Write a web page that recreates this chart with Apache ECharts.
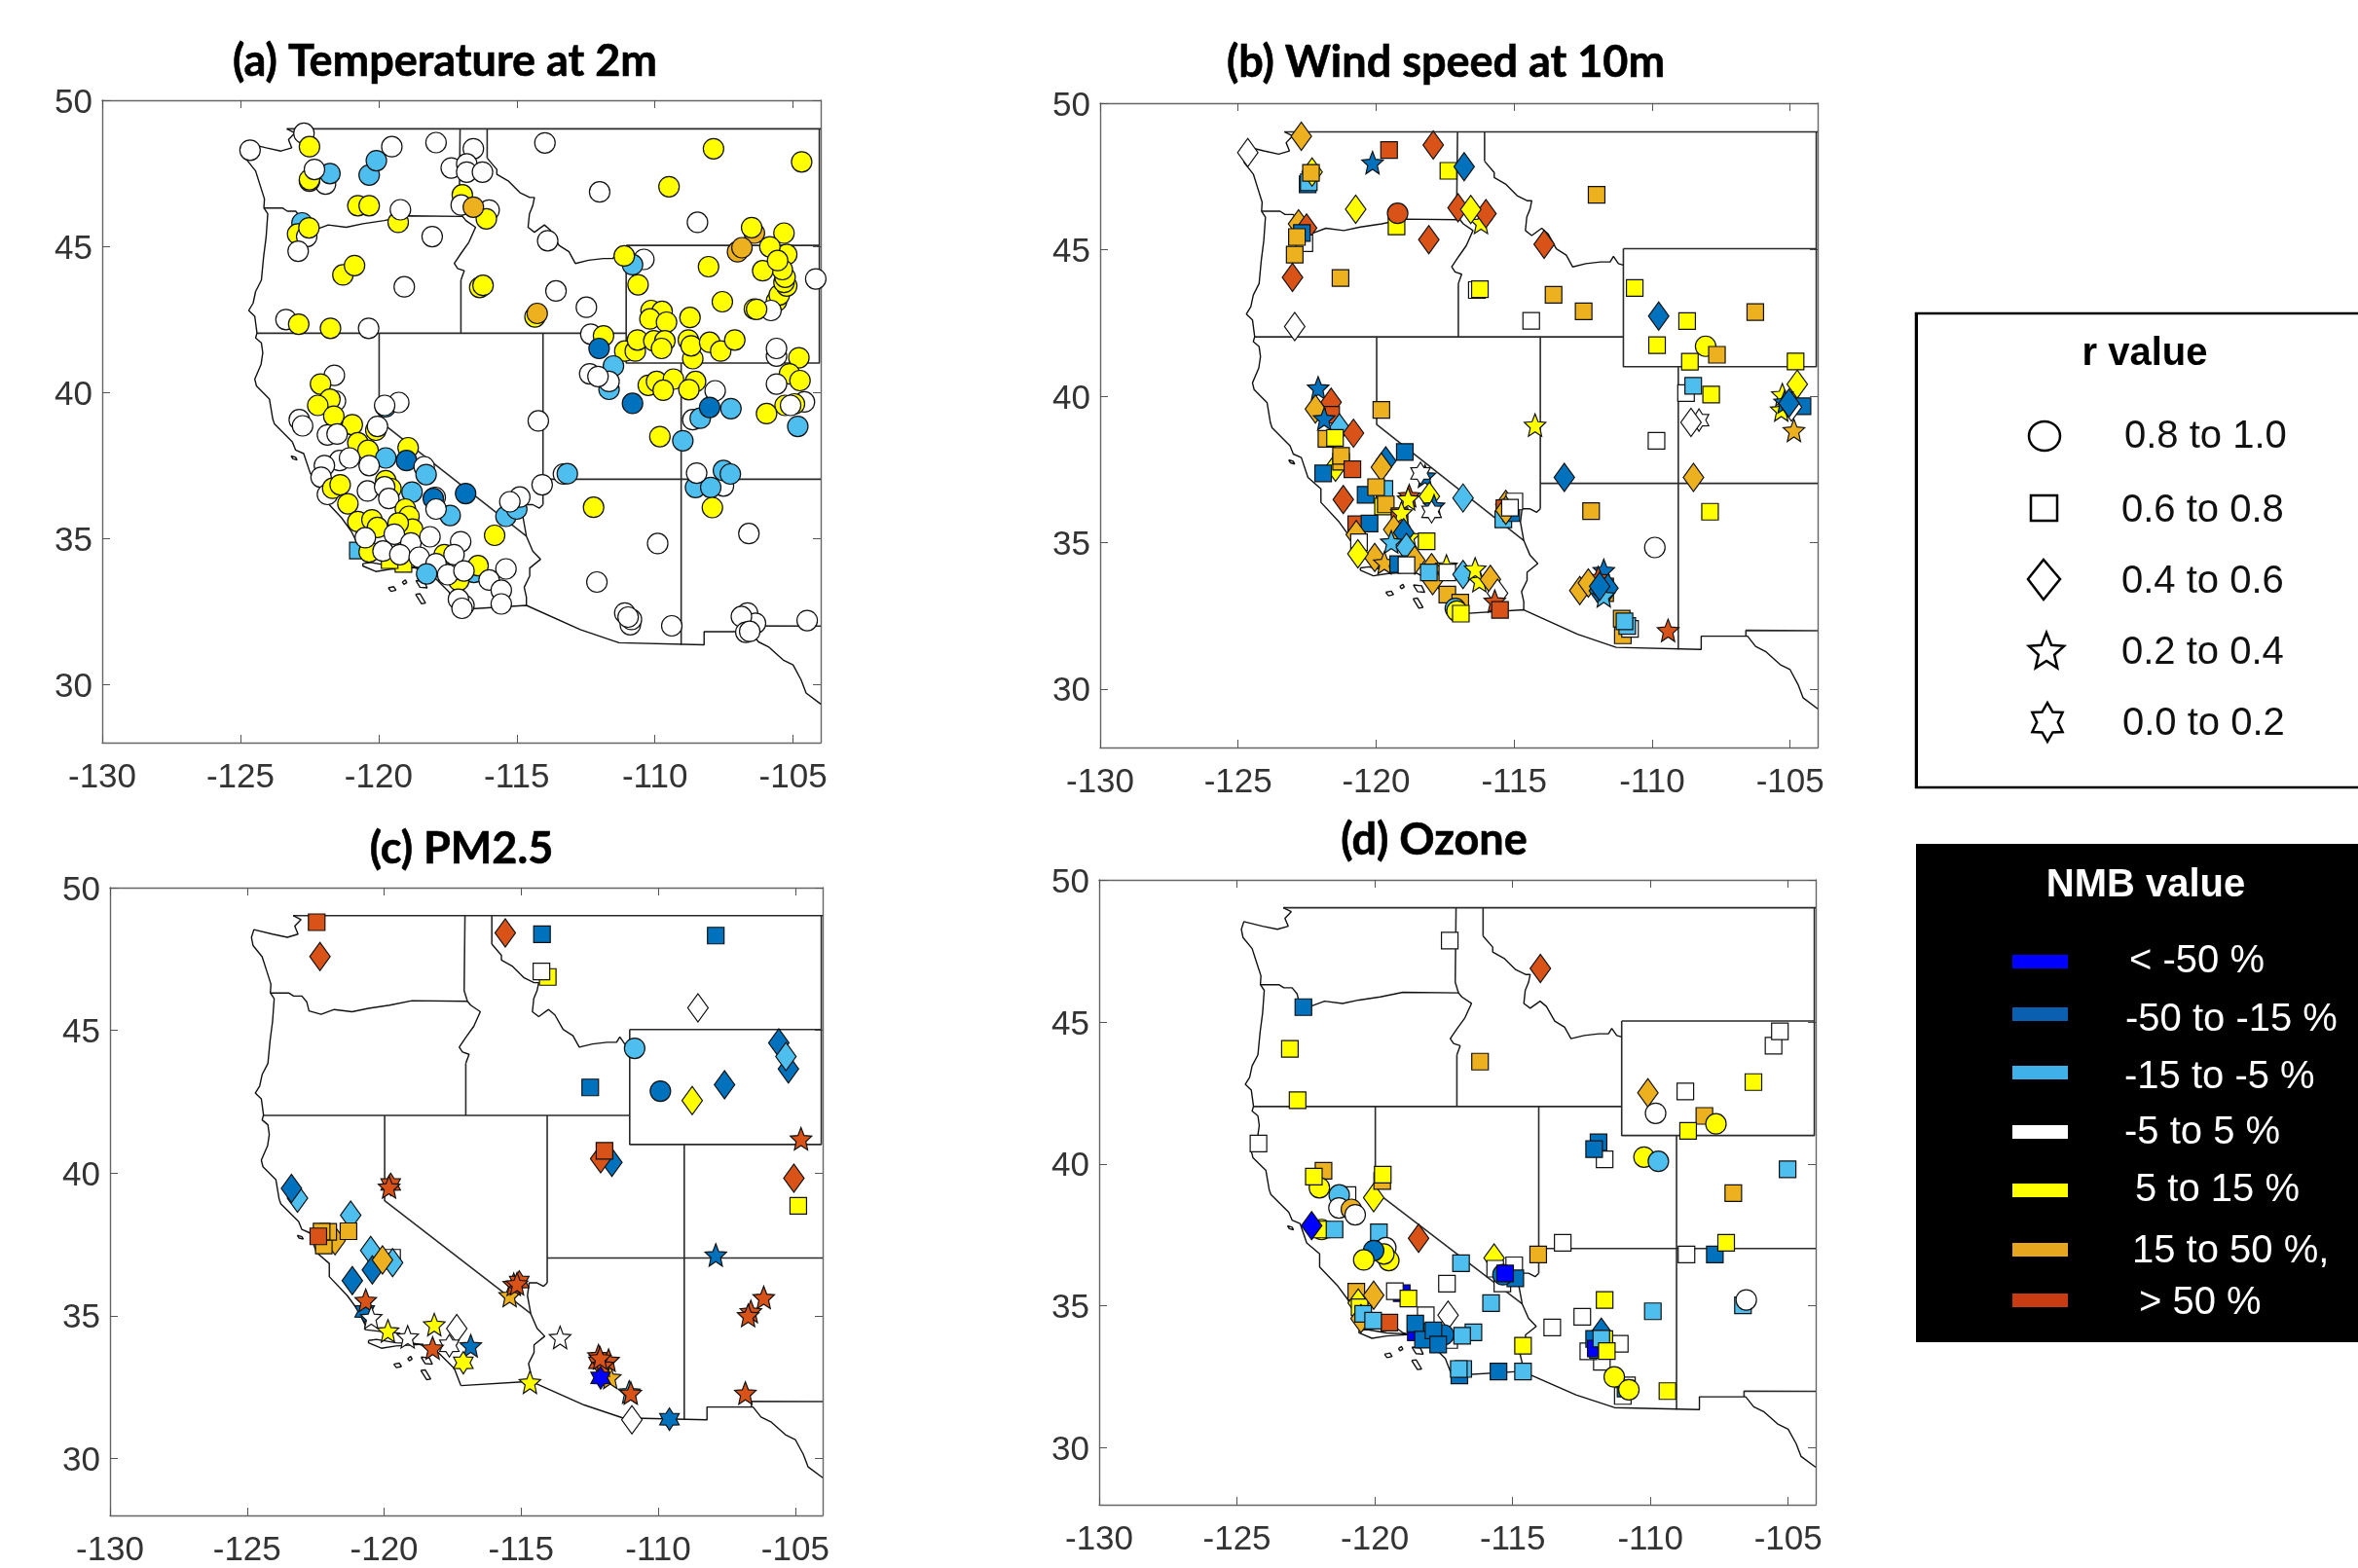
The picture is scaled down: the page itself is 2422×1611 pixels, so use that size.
<!DOCTYPE html>
<html><head><meta charset="utf-8">
<style>html,body{margin:0;padding:0;background:#fff}#c{width:2422px;height:1611px}</style>
<script src="https://cdn.jsdelivr.net/npm/echarts@6/dist/echarts.min.js"></script>
</head><body><div id="c"></div>
<script>
// Tick labels
const lonTicks=[-130,-125,-120,-115,-110,-105];
const latTicks=[30,35,40,45,50];
// Classes
const rLabels=['0.8 to 1.0','0.6 to 0.8','0.4 to 0.6','0.2 to 0.4','0.0 to 0.2'];
const nmbLabels=['< -50 %','-50 to -15 %','-15 to -5 %','-5 to 5 %','5 to 15 %','15 to 50 %,','> 50 %'];
const nmbColors=['#0000ff','#0072bd','#4dbeee','#ffffff','#ffff00','#edb120','#d95319'];
const nmbLegendColors=['#0000ff','#0b5fb0','#3fb0e8','#ffffff','#ffff00','#e6a61e','#c83c14'];
const titles=['(a) Temperature at 2m','(b) Wind speed at 10m','(c) PM2.5','(d) Ozone'];

// Base map polylines [lon,lat]: wiggly coast and rivers
const coastLine=[[-123.32,49.02],[-123.03,48.88],[-123.26,48.65],[-123.14,48.37],[-123.53,48.26],[-124.07,48.37],[-124.75,48.53],[-124.84,48.26],[-124.78,47.97],[-124.45,47.58],[-124.3,47.13],[-124.13,46.62],[-124.15,46.31],[-124.01,46.11],[-124.07,45.31],[-124.16,44.64],[-124.24,43.84],[-124.45,43.45],[-124.54,43.05],[-124.7,42.8],[-124.48,42.6],[-124.4,42.03],[-124.45,41.86],[-124.24,41.69],[-124.19,41.35],[-124.25,40.96],[-124.48,40.45],[-124.42,40.22],[-123.95,39.77],[-123.83,39.09],[-123.77,38.92],[-123.12,38.3],[-123,38.02],[-122.71,37.9],[-122.47,37.22],[-122,36.83],[-122,36.37],[-121.34,35.7],[-120.99,35.24],[-120.69,34.68],[-120.69,34.51],[-120.16,34.45],[-119.45,34.39],[-118.97,34.05],[-118.5,33.94],[-118.03,33.71],[-117.44,33.15],[-117.2,32.55]];
const mexicoBorder=[[-117.2,32.55],[-114.65,32.7],[-112.7,31.87],[-111.3,31.42],[-108.22,31.35],[-108.22,31.8],[-106.54,31.8],[-106.25,31.45],[-105.89,31.28],[-105.36,30.83],[-105,30.66],[-104.71,30.15],[-104.53,29.7],[-104,29.32]];
const columbiaRiver=[[-124.15,46.31],[-123.48,46.31],[-123.3,46.2],[-123,46.2],[-122.82,45.99],[-122.74,45.68],[-122.3,45.56],[-121.82,45.73],[-121.17,45.65],[-120.57,45.77],[-119.8,45.88],[-118.98,46.04],[-116.96,46.02]];
const snakeRiver=[[-116.96,46.02],[-116.84,45.88],[-116.49,45.65],[-116.73,45.14],[-117.02,44.75],[-117.26,44.41],[-117.14,44.24],[-116.9,44.16],[-117.02,43.84]];
const idahoMontana=[[-116.07,48.02],[-115.72,47.63],[-115.72,47.46],[-115.31,47.24],[-114.89,46.84],[-114.53,46.67],[-114.36,46.67],[-114.42,46.39],[-114.54,46.11],[-114.59,45.65],[-114.36,45.48],[-114,45.73],[-113.77,45.54],[-113.47,45.03],[-113.11,44.81],[-112.88,44.41],[-112.4,44.52],[-111.87,44.58],[-111.52,44.58],[-111.4,44.77],[-111.22,44.52],[-111.04,44.47]];
const coloradoRiver=[[-114.05,36.15],[-114.18,36.03],[-114.42,36.15],[-114.71,36.15],[-114.77,35.7],[-114.65,35.07],[-114.42,34.56],[-114.14,34.28],[-114.53,33.98],[-114.53,33.71],[-114.73,33.32],[-114.65,32.98],[-114.65,32.7]];
const islandFarallon=[[-123.17,37.82],[-123,37.77],[-122.95,37.68],[-123.1,37.72],[-123.17,37.82]];
const islandNicolas=[[-119.65,33.3],[-119.45,33.34],[-119.37,33.22],[-119.55,33.18],[-119.65,33.3]];
const islandBarbara=[[-119.14,33.5],[-119.03,33.57],[-118.98,33.48],[-119.08,33.42],[-119.14,33.5]];
const islandCatalina=[[-118.65,33.55],[-118.35,33.52],[-118.24,33.3],[-118.5,33.32],[-118.65,33.55]];
const islandClemente=[[-118.66,33.08],[-118.5,33.1],[-118.3,32.78],[-118.45,32.76],[-118.66,33.08]];
const islandsNorth=[[-120.57,34.13],[-120.28,34.17],[-119.57,34.05],[-118.56,34],[-119.57,33.94],[-120.1,33.86],[-120.57,34.05],[-120.57,34.13]];
const wigglyLines=[coastLine,mexicoBorder,columbiaRiver,snakeRiver,idahoMontana,coloradoRiver,islandFarallon,islandNicolas,islandBarbara,islandCatalina,islandClemente,islandsNorth];
// Straight state borders
const borderNorth=[[-123.32,49.02],[-104,49.02]];
const borderTexas=[[-106.6,31.8],[-106.6,32],[-104,31.99]];
const waIdaho=[[-117.05,49.02],[-117.08,46.39],[-116.96,46.02]];
const oregonIdaho=[[-117.02,43.84],[-117.02,42.02]];
const lat42=[[-124.4,42.02],[-111.04,42.02]];
const wyoming=[[-111.04,45.03],[-104.05,45.03],[-104.05,41],[-111.04,41],[-111.04,45.03]];
const nmWest=[[-109.05,41],[-109.05,31.35]];
const utahWest=[[-114.05,42.02],[-114.05,36.15]];
const lat37=[[-114.05,37.02],[-104,37.02]];
const nevadaWest=[[-119.98,42.02],[-119.98,39.03],[-114.65,35.07]];
const montanaEast=[[-104.05,49.02],[-104.05,45.03]];
const idahoNorth=[[-116.07,49.02],[-116.07,48.02]];
const straightLines=[borderNorth,borderTexas,waIdaho,oregonIdaho,lat42,wyoming,nmWest,utahWest,lat37,nevadaWest,montanaEast,idahoNorth];

// Sites: [lon, lat, r class (0 circle,1 square,2 diamond,3 star,4 hexagram), NMB class (index of nmbLabels)]
const temperaturePoints=[
[-120.75,34.58,1,2],[-119.1,34.12,1,4],[-119.6,34.25,1,4],
[-124.65,48.29,0,3],[-122.7,48.87,0,3],[-122.5,48.41,0,4],[-121.92,47.13,0,3],[-122.5,47.23,0,3],[-122.5,47.28,0,4],[-121.76,47.49,0,2],[-122.32,47.63,0,3],[-120.34,47.44,0,2],[-120.08,47.93,0,2],[-119.52,48.41,0,3],[-117.92,48.55,0,3],[-116.57,48.34,0,3],[-117.37,47.68,0,3],[-116.81,47.82,0,3],[-116.81,47.54,0,3],[-116.24,47.54,0,3],[-120.75,46.39,0,4],[-120.34,46.39,0,4],[-119.29,45.82,0,4],[-119.21,46.25,0,3],[-116.97,46.76,0,4],[-117.01,46.41,0,3],[-116,46.24,0,3],[-116.1,45.94,0,4],[-116.57,46.34,0,5],[-118.06,45.33,0,3],[-122.77,45.8,0,2],[-122.93,45.42,0,4],[-122.6,45.33,0,3],[-122.52,45.63,0,4],[-122.91,44.83,0,3],[-121.29,44.02,0,4],[-120.87,44.34,0,4],[-119.07,43.61,0,3],[-116.34,43.59,0,4],[-116.22,43.66,0,4],[-113.88,45.19,0,3],[-113.58,43.47,0,3],[-114.34,42.58,0,4],[-114.26,42.7,0,5],[-112.48,42.91,0,3],[-123.35,42.49,0,3],[-122.89,42.33,0,4],[-121.74,42.19,0,4],[-120.36,42.19,0,3],[-113.98,48.54,0,3],[-112,46.86,0,3],[-109.49,47.04,0,4],[-107.88,48.34,0,4],[-104.69,47.89,0,4],[-108.46,45.82,0,3],
[-106.4,45.45,0,5],[-106.5,45.64,0,4],[-107.01,44.81,0,5],[-106.85,44.95,0,5],[-105.33,45.45,0,4],[-105.23,44.72,0,4],[-105.84,44.98,0,4],[-105.6,43.12,0,4],[-105.5,43.33,0,4],[-105.23,43.64,0,4],[-105.33,43.76,0,4],[-105.29,43.94,0,4],[-105.39,44.2,0,4],[-106.1,44.16,0,4],[-105.56,44.51,0,4],[-104.18,43.88,0,3],[-108.06,44.3,0,4],[-107.56,43.1,0,4],[-105.8,42.8,0,3],[-106.4,42.85,0,4],[-106.32,42.84,0,4],
[-110.4,44.55,0,3],[-110.81,44.37,0,2],[-111.11,44.67,0,4],[-110.61,43.68,0,4],[-110.14,42.8,0,4],[-109.74,42.77,0,4],[-110.18,42.51,0,4],[-109.58,42.4,0,4],[-108.73,42.56,0,4],[-112.32,41.99,0,3],[-111.86,41.93,0,4],[-112.02,41.5,0,1],[-111.09,41.41,0,4],[-110.71,41.41,0,4],[-110.63,41.79,0,4],[-110.04,41.76,0,4],[-109.64,41.76,0,4],[-109.76,41.5,0,4],[-108.79,41.79,0,4],[-108.63,41.15,0,4],[-108.69,41.59,0,4],[-108.02,41.71,0,4],[-107.62,41.41,0,4],[-107.11,41.79,0,4],[-105.6,41.24,0,3],[-105.6,41.5,0,3],[-104.79,41.18,0,4],[-105.13,40.63,0,4],[-104.75,40.4,0,4],[-105.6,40.28,0,3],[-104.59,39.67,0,3],[-105.29,39.55,0,4],[-104.95,39.6,0,4],[-105.09,39.55,0,3],[-105.96,39.27,0,4],[-104.83,38.83,0,2],[-107.25,39.44,0,2],[-107.82,40.05,0,3],[-108.63,39.06,0,3],[-108.36,39.11,0,2],[-108.02,39.48,0,1],[-108.99,38.34,0,2],[-109.82,38.48,0,4],[-110.81,39.62,0,1],[-110.24,40.24,0,4],[-109.94,40.37,0,4],[-109.33,40.45,0,4],[-109.7,40.07,0,4],[-108.53,40.37,0,4],[-108.77,40.09,0,4],
[-111.5,40.9,0,2],[-111.66,40.1,0,2],[-111.66,40.37,0,3],[-112.36,40.63,0,3],[-112.06,40.54,0,3],[-114.22,39.02,0,3],[-114.08,36.83,0,3],[-113.31,37.2,0,3],[-113.17,37.21,0,2],[-112.22,36.06,0,4],[-107.52,36.79,0,3],[-108.53,36.74,0,2],[-107.52,37.32,0,2],[-107.27,37.2,0,2],[-107.98,36.74,0,2],[-108.49,37.23,0,3],[-107.92,36.05,0,4],[-106.6,35.16,0,3],[-109.9,34.82,0,3],[-112.1,33.5,0,3],[-110.89,32.04,0,3],[-111.09,32.44,0,3],[-110.85,32.22,0,3],[-110.97,32.3,0,3],[-109.39,32,0,3],[-106.65,32.44,0,3],[-106.36,32.09,0,3],[-106.87,32.32,0,3],[-106.71,31.78,0,3],[-106.57,31.81,0,3],[-104.49,32.18,0,3],
[-121.6,40.58,0,3],[-122.1,40.28,0,4],[-121.56,39.7,0,3],[-121.76,39.76,0,4],[-122.2,39.55,0,4],[-121.62,39.18,0,4],[-119.75,39.5,0,2],[-119.27,39.65,0,3],[-119.78,39.55,0,3],[-122.87,39.06,0,3],[-122.75,38.85,0,3],[-120.95,38.89,0,4],[-121.85,38.54,0,3],[-121.5,38.57,0,3],[-120.1,38.7,0,4],[-120.04,38.83,0,3],[-120.75,38.27,0,4],[-120.38,38.01,0,4],[-118.93,38.1,0,4],[-119.74,37.75,0,2],[-118.99,37.66,0,1],[-118.35,37.45,0,3],[-118.28,37.18,0,2],[-117.95,36.4,0,3],[-118.02,36.36,0,1],[-118.79,36.58,0,2],[-116.85,36.53,0,1],[-117.41,35.78,0,2],[-115.8,35.1,0,4],[-115.39,35.75,0,2],[-115,36,0,2],[-114.89,36.41,0,3],[-115.25,36.25,0,3],
[-121.41,37.66,0,3],[-121.05,37.75,0,3],[-121.96,37.49,0,3],[-122.08,37.09,0,3],[-121.85,36.5,0,3],[-121.66,36.71,0,4],[-121.39,36.83,0,4],[-121.11,36.18,0,4],[-120.34,37.49,0,3],[-119.74,36.97,0,4],[-119.55,36.7,0,4],[-120.4,36.62,0,3],[-119.78,36.76,0,3],[-119.63,36.36,0,3],[-119.03,36,0,4],[-118.9,35.75,0,4],[-117.92,36,0,3],
[-120.75,35.57,0,4],[-120.24,35.63,0,4],[-120.04,35.37,0,4],[-120.34,34.53,0,4],[-118.77,35.31,0,4],[-119.29,35.52,0,4],[-120.48,35.02,0,3],[-119.43,35.14,0,3],[-118.83,34.84,0,3],[-119.84,34.56,0,3],[-119.23,34.44,0,3],[-118.14,35.05,0,3],[-117.03,34.88,0,3],[-118.53,34.35,0,3],[-117.62,34.44,0,4],[-117.27,34.44,0,3],[-117.92,34.13,0,3],[-118.26,33.78,0,2],[-116.55,33.83,0,2],[-116.4,34.06,0,4],[-115.39,33.95,0,3],[-117.1,33.55,0,4],[-117.5,33.75,0,3],[-116.91,33.88,0,3],[-116,33.57,0,3],[-115.56,33.22,0,3],[-115.56,32.75,0,3],[-116.91,32.7,0,3],[-117.11,32.91,0,3],[-116.98,32.6,0,3]
];
const windPoints=[
[-124.65,48.31,2,3],[-122.71,48.87,2,5],[-119.53,48.4,1,6],[-120.13,47.97,3,1],[-117.93,48.57,2,6],[-117.38,47.69,1,4],[-116.81,47.83,2,1],[-122.48,47.23,1,1],[-122.44,47.3,1,2],[-122.32,47.65,2,4],[-122.36,47.62,1,5],[-120.74,46.38,2,4],[-119.26,45.79,1,4],[-119.22,46.24,0,6],[-117.03,46.43,2,6],[-116.2,45.93,3,4],[-116.02,46.23,2,6],[-116.57,46.37,2,4],[-118.09,45.34,2,6],[-122.81,45.88,2,5],[-122.52,45.74,2,6],[-122.6,45.22,1,3],[-122.69,45.57,1,1],[-122.87,45.43,1,5],[-122.95,44.83,1,5],[-123.03,44.05,2,6],[-121.29,44.03,1,5],[-122.95,42.37,2,3],[-113.91,45.18,2,6],[-112.01,46.87,1,5],[-116.35,43.62,1,3],[-116.24,43.65,1,4],[-113.57,43.46,1,5],[-112.48,42.89,1,5],[-114.38,42.57,1,3],[-110.63,43.69,1,4],[-109.76,42.73,2,1],[-108.73,42.56,1,4],[-106.26,42.87,1,5],[-109.82,41.74,1,4],[-108.06,41.7,0,4],[-107.65,41.41,1,5],[-108.63,41.17,1,4],[-104.8,41.18,1,4],[-104.74,40.4,2,4],[-108.77,40.1,1,3],[-108.51,40.35,1,2],[-107.86,40.05,1,4],[-104.55,39.65,1,1],[-105.28,40.05,3,4],[-105.32,39.53,3,4],[-105.2,39.8,3,1],[-104.95,39.62,2,3],[-105.04,39.76,2,1],[-104.86,38.83,3,5],[-108.3,39.18,4,3],[-108.59,39.1,2,3],[-108.5,37.22,2,5],[-113.18,37.22,2,1],[-112.21,36.07,1,5],[-107.9,36.05,1,4],[-109.9,34.83,0,3],[-114.24,39.01,3,4],[-109.42,32,3,6],[-109.84,38.47,1,3],
[-112.62,33.36,2,5],[-111.7,33.27,1,5],[-111.75,34.05,3,1],[-111.95,33.8,3,6],[-112.31,33.62,2,5],[-111.7,33.5,1,6],[-111.91,33.35,2,1],[-111.6,33.44,2,1],[-111.75,33.18,3,2],[-111.9,33.5,2,1],[-111.06,31.83,1,5],[-111.1,32.4,1,5],[-110.8,32.05,1,3],[-110.9,32.15,1,2],[-111,32.31,1,2],
[-122.1,40.28,3,1],[-121.63,39.79,2,6],[-121.63,39.36,1,6],[-122.2,39.56,2,5],[-121.33,38.92,2,2],[-121.88,39.23,3,1],[-120.82,38.73,2,6],[-121.8,38.54,1,5],[-121.49,38.57,1,4],[-119.81,39.53,1,5],[-121.47,37.57,2,4],[-121.27,37.76,1,5],[-121.27,37.96,1,5],[-120.86,37.5,1,6],[-121.92,37.36,1,1],[-119.65,37.79,2,1],[-119.81,37.57,2,5],[-118.96,38.09,1,1],[-118.23,37.27,3,1],[-118.39,37.36,4,3],[-116.85,36.52,2,2],[-118.8,36.6,3,6],[-118.07,36.57,2,4],[-121.19,36.47,2,6],[-120.38,36.63,1,1],[-119.7,36.83,1,2],[-120,36.89,1,5],[-119.75,36.23,1,4],[-119.65,36.3,1,5],[-117.9,36.25,3,1],[-117.99,36.05,4,3],[-119.15,35.9,1,6],[-118.84,36.49,3,4],[-119.08,36.02,3,4],[-120.72,35.62,1,6],[-120.24,35.65,1,1],[-120.72,35.27,2,5],[-120.62,35.01,1,3],[-119.36,35.44,2,5],[-118.8,35.2,3,4],[-119,35.34,2,1],[-119.45,35.02,3,2],[-118.9,34.83,2,2],[-118.17,35.04,1,4],[-120.05,34.49,2,5],[-120.66,34.61,2,4],[-119.7,34.31,3,5],[-118.6,34.4,2,5],[-119.2,34.26,1,1],[-118.9,34.23,1,3],[-117.99,34.14,2,5],[-117.45,34.2,3,4],[-117.95,33.7,2,5],[-118.09,33.98,1,2],[-117.42,33.98,1,3],[-116.85,33.91,2,2],[-116.26,33.7,3,4],[-116.41,34.1,3,4],[-115.86,33.74,2,5],[-115.6,33.27,2,3],[-117.42,33.22,1,5],[-116.95,32.95,1,5],[-117.13,32.75,0,2],[-117.07,32.66,0,4],[-116.93,32.57,1,4],[-115.7,33,3,6],[-115.51,32.7,1,6],[-115.3,36.3,2,5],[-115.35,36.17,1,6],[-115.39,35.79,1,2],[-115.1,36,1,1],[-114.99,36.4,1,3],[-115.3,36.1,2,5],[-115.15,36.19,1,3]
];
const pm25Points=[
[-122.46,48.79,1,6],[-122.34,47.59,2,6],[-115.58,48.41,2,6],[-114.24,48.37,1,1],[-107.9,48.32,1,1],[-114.03,46.87,1,4],[-114.26,47.06,1,3],[-108.55,45.79,2,3],[-110.86,44.37,0,2],[-109.92,42.87,0,1],[-108.76,42.54,2,4],[-107.58,43.09,2,1],[-105.6,44.56,2,1],[-105.25,43.65,2,1],[-105.34,44.08,2,2],[-112.48,43,1,1],[-111.69,40.37,2,1],[-112.1,40.5,2,6],[-111.96,40.78,1,6],[-104.79,41.2,3,6],[-105.05,39.82,2,6],[-104.89,38.85,1,4],[-107.9,37.13,3,1],[-106.15,35.64,3,6],[-106.62,35.15,3,6],[-106.72,35.01,3,6],[-106.82,32.29,3,6],[-109.59,31.37,4,1],[-110.96,31.35,2,3],[-111.06,32.33,3,2],[-111,32.29,3,6],[-111.75,32.84,3,5],[-112.18,33.6,3,6],[-111.81,33.44,3,6],[-112.18,33.35,4,6],[-112.02,33.27,3,6],[-112.1,32.82,4,0],[-112.12,33.52,3,6],[-113.58,34.24,3,3],[-114.68,32.67,3,4],[-115.42,35.71,3,5],[-115.27,36.1,3,6],[-115.07,36.18,4,6],[-115.15,36.12,3,6],[-119.76,39.6,4,6],[-119.82,39.51,3,6],[-123.16,39.12,2,2],[-123.38,39.46,2,1],[-121.22,38.52,2,2],[-121.79,37.63,2,5],[-122.2,37.46,1,5],[-122.04,37.94,1,5],[-122.28,37.95,1,5],[-121.3,37.96,1,5],[-122.4,37.78,1,6],[-119.71,37.03,1,3],[-120.49,37.29,2,2],[-119.69,36.86,2,2],[-120.43,36.6,2,1],[-120.06,36.95,2,5],[-121.16,36.23,2,1],[-120.71,35.15,4,1],[-120.67,35.54,3,6],[-120.47,34.94,3,3],[-119.86,34.47,3,4],[-119.14,34.26,3,3],[-118.17,34.69,3,4],[-117.35,34.55,2,3],[-117.62,33.95,4,3],[-118.23,33.87,3,6],[-116.84,33.95,3,1],[-117.11,33.35,4,4]
];
const ozonePoints=[
[-117.28,47.86,1,3],[-113.99,46.88,2,6],[-122.59,45.52,1,1],[-123.08,44.05,1,4],[-116.18,43.6,1,5],[-122.8,42.24,1,4],[-124.22,40.72,1,3],[-105.53,44.16,1,3],[-105.3,44.67,1,3],[-106.26,42.88,1,4],[-110.09,42.5,2,5],[-108.73,42.55,1,3],[-109.81,41.78,0,3],[-108.04,41.69,1,5],[-108.63,41.16,1,4],[-107.62,41.41,0,4],[-111.88,40.76,1,1],[-111.66,40.16,1,3],[-112.04,40.52,1,1],[-110.23,40.24,0,4],[-109.71,40.09,0,2],[-105.02,39.81,1,2],[-106.99,38.97,1,5],[-107.66,36.81,1,1],[-107.25,37.22,1,4],[-108.69,36.81,1,3],[-113.18,37.22,1,3],[-114.07,36.81,1,5],[-106.64,35.02,1,2],[-106.52,35.21,0,3],[-109.91,34.81,1,2],[-111.66,35.21,1,4],[-112.47,34.62,1,3],[-113.56,34.24,1,3],[-114.62,33.6,1,4],[-115.78,35.1,1,2],[-114.62,32.69,1,2],[-115.51,32.69,1,1],[-116.93,32.55,1,1],[-116.79,32.78,1,2],[-116.95,32.78,1,2],[-109.38,32,1,4],[-111,31.83,1,3],[-111.76,33.03,1,3],[-110.85,32.2,1,3],[-110.9,32.09,1,1],[-111.31,32.5,0,4],[-110.78,32.05,0,4],[-111.11,33.67,1,3],[-112.25,33.4,1,3],[-111.78,34.07,2,1],[-111.95,33.75,1,1],[-112.04,33.84,1,1],[-111.9,33.45,1,2],[-111.98,33.5,1,0],[-111.67,33.83,1,4],[-111.78,33.85,1,2],[-111.58,33.41,1,4],
[-115.67,36.69,2,4],[-114.94,36.43,1,3],[-115.63,36.31,1,3],[-115.37,35.79,1,3],[-114.9,35.97,1,1],[-115.35,36.1,0,1],[-115.27,36.14,1,0],[-116.87,36.5,1,2],[-118.41,37.38,2,6],[-117.38,35.78,1,3],[-119.85,37.59,1,2],[-119.6,37.05,0,3],[-119.49,36.6,0,4],[-119.67,36.83,0,4],[-120.04,36.95,0,1],[-120.4,36.62,0,4],[-120.04,38.81,2,4],[-119.73,39.4,1,5],[-119.71,39.62,1,4],[-121.86,39.76,1,5],[-122.01,39.16,0,4],[-122.21,39.55,1,4],[-120.99,38.9,1,3],[-121.29,38.91,0,2],[-121.3,38.45,0,3],[-120.85,38.4,0,5],[-120.71,38.21,0,3],[-121.93,37.69,0,4],[-121.93,37.69,1,4],[-121.46,37.69,1,2],[-122.29,37.83,2,0],[-119.02,35.45,1,0],[-119.27,35.52,1,3],[-118.78,35.26,1,4],[-120.67,35.5,1,5],[-120.6,35.1,2,4],[-120.55,34.95,1,4],[-120.5,34.55,2,5],[-120.04,35.38,2,5],[-120.42,34.72,1,2],[-119.47,34.41,1,6],[-120.06,34.48,1,2],[-118.15,34.67,1,3],[-117.34,34.67,2,3],[-117.3,33.8,1,3],[-118.51,34.07,1,0],[-118.53,34.38,1,1],[-118.25,33.81,1,1],[-117.5,33.98,0,1],[-117.87,34.14,1,1],[-117.7,33.64,1,1],[-116.42,34.07,1,2],[-116.83,33.95,1,2]
];
const panelPoints=[temperaturePoints,windPoints,pm25Points,ozonePoints];

// Layout
const boxes=[[105,103,738,660],[1130,106,737,662],[113,912,732,648],[1129,904,736,642]];
const titlePos=[[452,58],[1480,59],[469,867],[1468,858]];
const symbolSizes=[[21,21],[17,17],[21,29],[22,23],[20,23]];

function starPts(n,cx,cy,rx,ry,ratio){const p=[];for(let i=0;i<n*2;i++){const a=-Math.PI/2+i*Math.PI/n;const f=i%2?ratio:1;p.push([cx+rx*f*Math.cos(a),cy+ry*f*Math.sin(a)]);}return p;}
function toPath(p){return 'path://M'+p.map(q=>q[0].toFixed(2)+' '+q[1].toFixed(2)).join('L')+'Z';}
const symbols=['circle','rect','path://M10 0L20 15L10 30L0 15Z',toPath(starPts(5,50,50,50,50,0.45)),toPath(starPts(6,50,50,50,50,0.6))];

const grid=[],xAxis=[],yAxis=[],series=[],title=[];
const axisStyle={show:true,lineStyle:{color:'#666',width:1.4}};
const tickStyle={show:true,inside:true,length:8,lineStyle:{color:'#555',width:1}};
boxes.forEach((b,i)=>{
  grid.push({left:b[0],top:b[1],width:b[2],height:b[3],show:false});
  const xb={type:'value',gridIndex:i,min:-130,max:-104,splitLine:{show:false},axisLine:{...axisStyle,onZero:false}};
  const yb={type:'value',gridIndex:i,min:28,max:50,splitLine:{show:false},axisLine:{...axisStyle,onZero:false}};
  xAxis.push({...xb,position:'bottom',axisTick:{...tickStyle,customValues:lonTicks},
    axisLabel:{show:true,customValues:lonTicks,margin:19,color:'#333',fontFamily:'Liberation Sans',fontSize:35}});
  yAxis.push({...yb,position:'left',axisTick:{...tickStyle,customValues:latTicks},
    axisLabel:{show:true,customValues:latTicks,margin:10,color:'#333',fontFamily:'Liberation Sans',fontSize:35,verticalAlign:'top',lineHeight:30,padding:[-12,0,0,0]}});
  xAxis.push({...xb,position:'top',axisTick:{...tickStyle,customValues:lonTicks},axisLabel:{show:false}});
  yAxis.push({...yb,position:'right',axisTick:{...tickStyle,customValues:latTicks},axisLabel:{show:false}});
  const xi=i*2, yi=i*2;
  straightLines.forEach(l=>series.push({type:'line',xAxisIndex:xi,yAxisIndex:yi,data:l,showSymbol:false,silent:true,clip:false,z:1,
    lineStyle:{color:'#2a2a2a',width:1.6},animation:false}));
  wigglyLines.forEach(l=>series.push({type:'line',xAxisIndex:xi,yAxisIndex:yi,data:l,showSymbol:false,silent:true,clip:false,z:1,
    lineStyle:{color:'#111',width:1.4},animation:false}));
  series.push({type:'scatter',xAxisIndex:xi,yAxisIndex:yi,data:panelPoints[i],z:3,clip:false,animation:false,progressive:0,
    symbol:v=>symbols[v[2]],symbolSize:v=>symbolSizes[v[2]],
    itemStyle:{color:p=>nmbColors[p.value[3]],borderColor:'#111',borderWidth:1.2,opacity:1}});
  title.push({text:titles[i],left:titlePos[i][0],top:titlePos[i][1],textAlign:'center',textVerticalAlign:'middle',
    textStyle:{fontFamily:'Lato',fontWeight:'bold',fontSize:45,color:'#000',textBorderColor:'#000',textBorderWidth:0.6}});
});

// Legends
const g=[];
const lf='Liberation Sans';
g.push({type:'rect',shape:{x:1968,y:322,width:500,height:487},style:{fill:'#fff',stroke:'#000',lineWidth:2.5},z:10});
g.push({type:'rect',shape:{x:1967,y:322,width:3,height:487},style:{fill:'#000'},z:11});
function txt(t,x,y,color,size,weight,align){g.push({type:'text',x:x,y:y,z:12,style:{text:t,fill:color,font:(weight||'normal')+' '+size+'px "'+lf+'"',textAlign:align||'left',textVerticalAlign:'middle'}});}
txt('r value',2203,364,'#000',40,'bold','center');
const rX=[2182,2179,2179,2179,2180],rY=[449,525,598,671,744];
rLabels.forEach((t,i)=>txt(t,rX[i],rY[i],'#111',40));
const ls={fill:'#fff',stroke:'#000',lineWidth:2.5};
g.push({type:'ellipse',shape:{cx:2100,cy:448,rx:16,ry:15},style:ls,z:12});
g.push({type:'rect',shape:{x:2086,y:509,width:27,height:26},style:ls,z:12});
g.push({type:'polygon',shape:{points:[[2099,575],[2116,595],[2099,616],[2083,595]]},style:ls,z:12});
g.push({type:'polygon',shape:{points:starPts(5,2102,670,19,20,0.45)},style:ls,z:12});
g.push({type:'polygon',shape:{points:starPts(6,2103,742,18,20,0.6)},style:ls,z:12});
g.push({type:'rect',shape:{x:1968,y:867,width:500,height:512},style:{fill:'#000'},z:10});
txt('NMB value',2204,910,'#fff',40,'bold','center');
const nBarY=[988,1042,1102,1163,1223,1284,1336],nTextX=[2187,2183,2182,2182,2193,2190,2197],nTextY=[988,1048,1107,1164,1223,1286,1339];
nmbLabels.forEach((t,i)=>{
  g.push({type:'rect',shape:{x:2067,y:nBarY[i]-7,width:57,height:14},style:{fill:nmbLegendColors[i]},z:12});
  txt(t,nTextX[i],nTextY[i],'#fff',40);
});

const chart=echarts.init(document.getElementById('c'),null,{renderer:'canvas'});
chart.setOption({backgroundColor:'#fff',animation:false,title,grid,xAxis,yAxis,series,graphic:{elements:g}});
</script></body></html>
